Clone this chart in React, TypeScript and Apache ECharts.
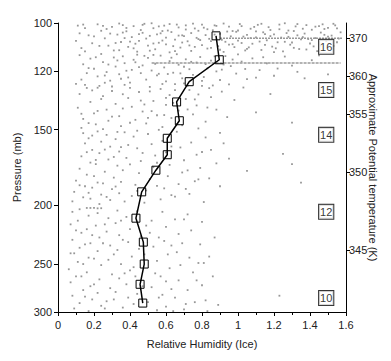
import React, { useEffect, useRef } from "react";
import * as echarts from "echarts";

// Mean relative humidity profile (x = RHi, p = pressure mb)
const profileRH = [0.878, 0.896, 0.729, 0.659, 0.674, 0.607, 0.607, 0.544, 0.465, 0.433, 0.474, 0.479, 0.456, 0.471];
const profileP = [105, 115, 125, 135, 145, 155, 165, 175, 190, 210, 230, 250, 270, 290];

// Left axis ticks (pressure)
const pressureTicks = [100, 120, 150, 200, 250, 300];
// Right axis: approximate potential temperature ticks, with the pressure they sit at
const thetaLabels = ["370", "360", "355", "350", "345"];
const thetaPressure = [105.9, 122.3, 141.3, 176.2, 237.0];

// Boxed annotations
const boxLabels = ["16", "15", "14", "12", "10"];
const boxPressure = [109.5, 129, 153, 205, 284.5];
const boxRH = 1.49;

// Dense horizontal dot rows
const upperRowRH = [0.9, 1.58];
const upperRowP = 106;
const lowerRowRH = [0.52, 1.57];
const lowerRowP = 116.4;

// Scattered observations [RHi, pressure]
const obs100to112 = [
  [0.11,101],[0.12,104],[0.1,107],[0.13,110],[0.15,102],[0.19,108],[0.22,100.5],[0.24,103],[0.26,106],[0.28,109],[0.3,101.5],[0.31,111],[0.33,104.5],[0.35,107.5],[0.36,100.8],[0.38,103.2],[0.39,109.5],[0.41,105.5],[0.42,101.2],[0.44,111.5],[0.45,107],[0.47,103.8],[0.48,100.3],[0.5,109],[0.51,105],[0.53,102],[0.54,110.5],[0.56,107.8],[0.57,104],[0.59,101],[0.6,108.5],[0.62,111.8],[0.63,103.5],[0.65,106.5],[0.66,100.6],[0.68,109.8],[0.69,104.8],[0.71,102.5],[0.72,107.2],[0.74,111.2],[0.75,100.2],[0.77,105.8],[0.78,103],[0.8,108.8],[0.81,101.8],[0.83,110.2],[0.84,106.2],[0.86,102.8],[0.87,100.9],[0.89,109.2],[0.9,104.2],[0.92,111.6],[0.93,107.4],[0.95,101.4],[0.96,105.2],[0.98,109.6],[0.99,103.4],[1.01,100.4],[1.02,107.9],[1.04,111],[1.05,104.6],[1.07,102.2],[1.08,108.2],[1.1,105.6],[1.11,100.7],[1.13,110.8],[1.14,103.6],[1.16,106.8],[1.17,101.6],[1.19,109.4],[1.2,104.4],[1.22,107.6],[1.23,102.4],[1.25,111.4],[1.26,100.1],[1.28,105.4],[1.29,108.6],[1.31,103.1],[1.32,101.3],[1.34,110.4],[1.35,106.4],[1.37,104.1],[1.38,100.8],[1.4,108.1],[1.41,102.6],[1.43,105.9],[1.44,111.3],[1.46,103.7],[1.47,100.5],[1.49,107.1],[1.5,101.9],[1.52,104.9],[1.53,109.1],[1.55,102.1],[1.56,106.1],
  [0.27,102.3],[0.34,100.2],[0.37,105.9],[0.43,108.2],[0.46,102.7],[0.52,100.1],[0.55,104.4],[0.58,106.9],[0.61,102.9],[0.64,109.2],[0.67,101.7],[0.7,105.1],[0.73,108.9],[0.76,102.1],[0.79,106.7],[0.82,104.7],[0.85,109.9],[0.88,101.1],[0.91,106.6],[0.94,103.3],[0.97,108.4],[1.0,102.9],[1.03,105.3],[1.06,109.7],[1.09,101.5],[1.12,107.3],[1.15,104.3],[1.18,102.7],[1.21,110.1],[1.24,105.7],[1.27,103.9],[1.3,107.7],[1.33,104.8],[1.36,102.2],[1.39,106.3],[1.42,109.3],[1.45,101.2],[1.48,104.6],[1.51,108.3],[1.54,100.9],
  [0.2,105.2],[0.23,109.1],[0.25,101.1],[0.29,104.1],[0.32,107.9],[0.34,110.9],[0.36,103.7],[0.38,101.9],[0.4,107.3],[0.42,110.1],[0.45,104.3],[0.47,100.7],[0.49,106.1],[0.51,111.1],[0.53,108.1],[0.56,101.3],[0.58,103.1],[0.6,105.7],[0.62,100.4],[0.65,111.3],[0.67,104.9],[0.69,107.7],[0.71,100.9],[0.74,103.9],[0.76,109.5],[0.78,106.3],[0.8,100.6],[0.83,102.4],[0.85,107.1],[0.87,104.5],[0.9,110.7],[0.92,100.2],[0.95,108.6],[0.97,103.1],[1.0,106.9],[1.02,101.2],[1.05,110.3],[1.07,105.9],[1.1,103.2],[1.13,100.3],[1.15,108.7],[1.18,105.1],[1.2,111.7],[1.23,100.6],[1.26,107.4],[1.28,102.9],[1.31,109.9],[1.33,100.4],[1.36,105.5],[1.38,110.6],[1.41,106.7],[1.43,101.4],[1.46,108.9],[1.48,102.3],[1.5,105.3],[1.53,100.3],[1.55,107.6],[1.57,103.6],[0.15,111.4],[0.17,104.8],[0.14,100.6],
];
const obs112to135 = [
  [0.12,113],[0.14,117],[0.16,121],[0.13,124],[0.18,114.5],[0.2,119],[0.22,122.5],[0.24,112.5],[0.25,116],[0.27,120.5],[0.29,124.5],[0.31,114],[0.32,118],[0.34,121.5],[0.36,113.5],[0.37,116.5],[0.39,123],[0.41,119.5],[0.42,115],[0.44,112.8],[0.46,121],[0.47,117.5],[0.49,124],[0.5,114.2],[0.52,119.8],[0.54,116.8],[0.55,122],[0.57,113.2],[0.59,118.4],[0.6,124.8],[0.62,115.6],[0.64,120.8],[0.66,112.6],[0.67,117.2],[0.69,123.4],[0.71,114.8],[0.73,119.2],[0.75,121.8],[0.77,116.2],[0.79,113.8],[0.81,122.8],[0.83,118.8],[0.85,115.4],[0.88,120.2],[0.9,124.2],[0.93,113.4],[0.96,117.8],[0.99,121.2],[1.02,115.8],[1.05,123.8],[1.08,114.4],[1.12,119.6],[1.16,116.6],[1.2,122.2],[1.26,113.6],[1.33,120.4],[1.41,115.2],[1.5,121.6],
  [0.28,117.1],[0.35,123.6],[0.43,116.1],[0.53,112.9],[0.61,121.4],[0.7,118.1],[0.8,124.6],[0.92,117.1],[1.0,112.7],[1.1,123.1],[1.3,117.6],[1.45,113.1],
  [0.15,126.5],[0.19,129.2],[0.21,113.9],[0.26,122.1],[0.3,127.3],[0.33,115.3],[0.38,119.9],[0.4,125.4],[0.45,118.3],[0.48,113.3],[0.51,129.7],[0.56,121.3],[0.58,126.1],[0.63,114.1],[0.65,129.1],[0.68,121.1],[0.72,126.9],[0.74,115.9],[0.78,131.2],[0.82,116.9],[0.84,128.1],[0.87,113.5],[0.91,119.4],[0.95,126.3],[0.97,114.9],[1.04,119.1],[1.14,113.9],[1.22,118.9],[1.37,123.4],[0.24,133.5],[0.36,131.1],[0.46,134.3],[0.6,132.9],[0.76,133.7],[0.17,118.7],[0.22,127.9],
];
const obs125to150 = [
  [0.1,126],[0.12,131],[0.11,138],[0.14,144],[0.13,149],[0.16,128],[0.18,135],[0.2,141],[0.21,147],[0.23,127],[0.25,132],[0.27,139],[0.28,145],[0.3,129.5],[0.32,136],[0.34,142.5],[0.35,148],[0.37,126.5],[0.39,133],[0.41,137.5],[0.43,144.5],[0.45,130],[0.47,140],[0.49,146.5],[0.51,127.5],[0.53,134.5],[0.55,142],[0.57,128.5],[0.58,148.5],[0.6,136.5],[0.62,131.5],[0.63,143.5],[0.65,126.2],[0.67,139.5],[0.69,147.5],[0.71,133.5],[0.73,129],[0.75,141.5],[0.77,136.8],[0.8,127],[0.82,145.5],[0.85,132.5],[0.88,139],[0.91,129.8],[0.94,143],[0.98,134],[1.03,127.8],[1.1,140.5],[1.18,131],[1.3,146],
  [0.26,125.5],[0.4,128],[0.52,139.8],[0.64,135.5],[0.7,125.8],[0.86,126.8],
  [0.13,141.2],[0.17,146.3],[0.22,139.7],[0.25,149.7],[0.3,142.7],[0.36,138.4],[0.4,146.1],[0.48,136.3],[0.5,143.4],[0.59,141.9],[0.66,146.8],[0.72,138.9],[0.78,149.3],[0.83,137.9],
];
const obs150to200 = [
  [0.14,152],[0.15,158],[0.13,166],[0.12,174],[0.1,182],[0.09,190],[0.08,197],[0.17,155],[0.19,162],[0.18,170],[0.16,178],[0.15,186],[0.14,194],[0.22,151],[0.24,157],[0.23,164],[0.21,171],[0.2,179],[0.19,187],[0.18,195],[0.27,153],[0.29,160],[0.28,168],[0.26,176],[0.25,184],[0.24,192],[0.23,199],[0.32,155.5],[0.34,163],[0.33,172],[0.31,180],[0.3,188],[0.29,196],[0.37,151.5],[0.39,159],[0.38,167],[0.36,175],[0.35,183],[0.34,191],[0.42,154],[0.44,161],[0.46,169],[0.45,177],[0.43,185],[0.41,193],[0.5,152.5],[0.52,158.5],[0.54,165.5],[0.53,173],[0.51,181],[0.49,189],[0.48,198],[0.58,156.5],[0.6,163.5],[0.62,171.5],[0.61,179],[0.59,187.5],[0.57,195.5],[0.66,151.2],[0.68,160.5],[0.7,168.5],[0.69,176.5],[0.67,184.5],[0.65,193.5],[0.74,157.5],[0.77,165],[0.79,173.5],[0.76,182.5],[0.73,191.5],[0.82,154.5],[0.85,162],[0.88,170.5],[0.84,180.5],[0.81,197.5],[0.92,158],[0.95,167.5],[0.9,186],[1.05,175.5],[1.25,164.5],[1.3,171],[1.35,183.5],
  [0.16,202],[0.18,202],[0.2,202],[0.22,202.3],[0.24,202.2],
  [0.19,153.4],[0.33,151.3],[0.44,150.6],[0.56,150.1],[0.9,151.9],[0.16,163.4],[0.21,168.3],[0.26,161.8],[0.31,166.4],[0.35,160.3],[0.4,171.2],[0.47,163.9],[0.55,170.1],[0.63,159.9],[0.72,175.1],[0.8,163.3],[0.12,185.3],[0.17,190.7],[0.22,183.4],[0.27,193.7],[0.32,186.2],[0.37,197.1],[0.44,189.3],[0.55,185.7],[0.63,192.4],[0.71,187.9],[0.78,181.2],
];
const obs200to300 = [
  [0.08,205],[0.07,215],[0.08,228],[0.07,240],[0.06,255],[0.07,268],[0.08,282],[0.09,296],[0.12,203],[0.11,212],[0.13,222],[0.12,235],[0.11,248],[0.13,262],[0.14,276],[0.12,290],[0.17,208],[0.16,219],[0.18,231],[0.17,244],[0.16,258],[0.18,272],[0.19,286],[0.17,299],[0.22,206],[0.21,216],[0.23,226],[0.22,238],[0.24,251],[0.23,265],[0.22,279],[0.24,293],[0.28,210],[0.27,221],[0.29,233],[0.28,246],[0.3,260],[0.29,274],[0.27,288],[0.33,204],[0.32,214],[0.34,224],[0.33,237],[0.35,250],[0.34,264],[0.32,278],[0.36,295],[0.38,209],[0.4,219],[0.39,230],[0.41,243],[0.4,256],[0.38,270],[0.39,284],[0.44,204.5],[0.46,225],[0.45,236],[0.43,262],[0.44,280],[0.52,212],[0.51,222],[0.53,234],[0.55,247],[0.54,259],[0.52,273],[0.5,289],[0.55,298],[0.58,205],[0.6,217],[0.59,229],[0.61,241],[0.62,254],[0.6,267],[0.58,281],[0.6,294],[0.65,211],[0.67,223],[0.66,239],[0.68,251],[0.67,266],[0.65,284],[0.7,297],[0.72,207],[0.74,220],[0.73,244],[0.75,258],[0.72,276],[0.71,291],[0.8,213],[0.79,232],[0.81,249],[0.8,271],[0.82,287],[0.83,299],[0.87,226],[0.86,262],[0.89,292],[1.23,282],
  [0.1,220],[0.15,232],[0.2,245],[0.25,231],[0.31,241],[0.36,228],[0.42,253],[0.48,241],[0.57,262],[0.63,275],[0.69,231],[0.77,266],[0.84,243],[0.1,262],[0.15,283],[0.2,270],[0.26,296],[0.31,286],[0.37,259],[0.42,291],[0.47,272],[0.56,284],[0.64,299],[0.76,289],[0.09,240],[0.14,250],[0.19,224],[0.26,215],[0.35,212],[0.49,216],[0.56,226],[0.63,233],[0.7,211],[0.78,249],
];

const FONT = "Liberation Sans";
const TXT = "#222";

export default function App() {
  const ref = useRef<HTMLDivElement>(null);
  useEffect(() => {
    document.body.style.margin = "0";
    const chart = echarts.init(ref.current!, null, { renderer: "svg" });
    const allObs = [...obs100to112, ...obs112to135, ...obs125to150, ...obs150to200, ...obs200to300];
    const logAxisBase = {
      type: "log" as const,
      logBase: 10,
      min: 100,
      max: 300,
      inverse: true,
      splitLine: { show: false },
      minorTick: { show: false },
      minorSplitLine: { show: false },
    };
    chart.setOption({
      animation: false,
      backgroundColor: "#fff",
      textStyle: { fontFamily: FONT },
      grid: { left: 58, right: 45, top: 23, bottom: 49, containLabel: false, outerBoundsMode: "none" },
      xAxis: {
        type: "value",
        min: 0,
        max: 1.6,
        interval: 0.2,
        name: "Relative Humidity (Ice)",
        nameLocation: "middle",
        nameGap: 26,
        nameMoveOverlap: false,
        nameTextStyle: { fontSize: 11, color: TXT, fontFamily: FONT },
        axisLine: { show: true, lineStyle: { color: "#000", width: 1 } },
        axisTick: { show: true, length: 4, lineStyle: { color: "#000" } },
        minorTick: { show: true, splitNumber: 2, length: 3, lineStyle: { color: "#000" } },
        axisLabel: { fontSize: 11, color: TXT, margin: 7, fontFamily: FONT },
        splitLine: { show: false },
      },
      yAxis: [
        {
          ...logAxisBase,
          position: "left",
          name: "Pressure (mb)",
          nameLocation: "middle",
          nameGap: 36,
          nameMoveOverlap: false,
          nameTextStyle: { fontSize: 11, color: TXT, fontFamily: FONT },
          axisLine: { show: true, lineStyle: { color: "#000", width: 1 } },
          axisTick: { show: true, length: 4, customValues: pressureTicks, lineStyle: { color: "#000" } },
          axisLabel: { fontSize: 11, color: TXT, margin: 6, customValues: pressureTicks, fontFamily: FONT },
        },
        {
          ...logAxisBase,
          position: "right",
          name: "Approximate Potential temperature (K)",
          nameLocation: "middle",
          nameRotate: -90,
          nameGap: 21,
          nameMoveOverlap: false,
          nameTextStyle: { fontSize: 11, color: TXT, fontFamily: FONT },
          axisLine: { show: true, lineStyle: { color: "#000", width: 1 } },
          axisTick: { show: true, length: 4, customValues: thetaPressure, lineStyle: { color: "#000" } },
          axisLabel: {
            fontSize: 11,
            color: TXT,
            margin: 3,
            fontFamily: FONT,
            customValues: thetaPressure,
            formatter: (v: number) => {
              let best = 0;
              thetaPressure.forEach((p, i) => {
                if (Math.abs(p - v) < Math.abs(thetaPressure[best] - v)) best = i;
              });
              return thetaLabels[best];
            },
          },
        },
      ],
      series: [
        {
          type: "scatter",
          yAxisIndex: 0,
          data: allObs,
          symbol: "rect",
          symbolSize: 1.8,
          itemStyle: { color: "#7d7d7d" },
          silent: true,
          z: 1,
        },
        {
          type: "line",
          yAxisIndex: 0,
          data: upperRowRH.map((x) => [x, upperRowP]),
          showSymbol: false,
          lineStyle: { color: "#999", width: 1.5, type: [2, 1] },
          silent: true,
          z: 2,
        },
        {
          type: "line",
          yAxisIndex: 0,
          data: lowerRowRH.map((x) => [x, lowerRowP]),
          showSymbol: false,
          lineStyle: { color: "#9a9a9a", width: 1.5, type: [3, 1] },
          silent: true,
          z: 2,
        },
        {
          type: "line",
          yAxisIndex: 0,
          data: profileRH.map((x, i) => [x, profileP[i]]),
          symbol: "rect",
          symbolSize: 8,
          showSymbol: true,
          lineStyle: { color: "#000", width: 1.5 },
          itemStyle: { color: "rgba(255,255,255,0)", borderColor: "#000", borderWidth: 1 },
          z: 5,
        },
        {
          type: "scatter",
          yAxisIndex: 0,
          data: boxLabels.map((t, i) => [boxRH, boxPressure[i], t]),
          symbolSize: 0,
          label: {
            show: true,
            position: "inside",
            formatter: (p: any) => p.value[2],
            fontSize: 11,
            color: "#000",
            fontFamily: FONT,
            backgroundColor: "#fff",
            borderColor: "#000",
            borderWidth: 1,
            padding: [1, 1, 0, 1],
            lineHeight: 13,
          },
          z: 6,
        },
      ],
    });
    return () => chart.dispose();
  }, []);
  return <div ref={ref} style={{ width: 391, height: 361 }} />;
}
